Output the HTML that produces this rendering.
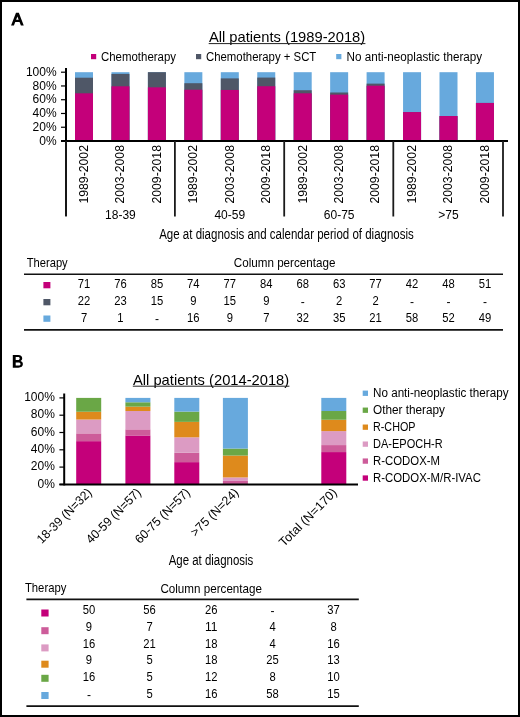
<!DOCTYPE html>
<html><head><meta charset="utf-8"><style>
html,body{margin:0;padding:0;background:#fff;}
#wrap{position:absolute;left:0;top:0;width:520px;height:717px;overflow:hidden;background:#fff;}
svg{position:absolute;left:0;top:0;font-family:"Liberation Sans", sans-serif;will-change:transform;}
text{fill:#000;}
#frame{position:absolute;left:0;top:0;width:516px;height:713px;border:2px solid #000;}
</style></head><body><div id="wrap">
<svg width="520" height="717" viewBox="0 0 520 717">
<path fill="#000" fill-rule="evenodd" d="M11.06,25.5 L16,12.8 L18.85,12.8 L23.75,25.5 L20.9,25.5 L19.54,22 L15.26,22 L13.9,25.5 Z M16.16,19.7 L18.64,19.7 L17.4,16.5 Z"/>
<text x="208.9" y="41.8" font-size="14.6" textLength="156.3" lengthAdjust="spacingAndGlyphs" >All patients (1989-2018)</text>
<line x1="208.7" y1="43.6" x2="365.4" y2="43.6" stroke="#222" stroke-width="1"/>
<rect x="91.00" y="54.00" width="5.20" height="5.20" fill="#C4007A"/>
<text x="101" y="60.6" font-size="12.5" textLength="75" lengthAdjust="spacingAndGlyphs" >Chemotherapy</text>
<rect x="196.00" y="54.00" width="5.20" height="5.20" fill="#4F5767"/>
<text x="206" y="60.6" font-size="12.5" textLength="110.3" lengthAdjust="spacingAndGlyphs" >Chemotherapy + SCT</text>
<rect x="336.20" y="54.00" width="5.20" height="5.20" fill="#67A9DD"/>
<text x="346.5" y="60.6" font-size="12.5" textLength="135.6" lengthAdjust="spacingAndGlyphs" >No anti-neoplastic therapy</text>
<line x1="66" y1="68" x2="66" y2="216" stroke="#000" stroke-width="2"/>
<line x1="61" y1="141" x2="508" y2="141" stroke="#000" stroke-width="2"/>
<line x1="61" y1="141.0" x2="66" y2="141.0" stroke="#000" stroke-width="1.2"/>
<text x="56.6" y="144.6" font-size="12" text-anchor="end" >0%</text>
<line x1="61" y1="127.24" x2="66" y2="127.24" stroke="#000" stroke-width="1.2"/>
<text x="56.6" y="130.84" font-size="12" text-anchor="end" >20%</text>
<line x1="61" y1="113.48" x2="66" y2="113.48" stroke="#000" stroke-width="1.2"/>
<text x="56.6" y="117.08" font-size="12" text-anchor="end" >40%</text>
<line x1="61" y1="99.72" x2="66" y2="99.72" stroke="#000" stroke-width="1.2"/>
<text x="56.6" y="103.32" font-size="12" text-anchor="end" >60%</text>
<line x1="61" y1="85.96000000000001" x2="66" y2="85.96000000000001" stroke="#000" stroke-width="1.2"/>
<text x="56.6" y="89.56" font-size="12" text-anchor="end" >80%</text>
<line x1="61" y1="72.2" x2="66" y2="72.2" stroke="#000" stroke-width="1.2"/>
<text x="56.6" y="75.8" font-size="12" text-anchor="end" >100%</text>
<rect x="75.00" y="72.20" width="18.00" height="68.80" fill="#67A9DD"/>
<rect x="75.00" y="77.70" width="18.00" height="63.30" fill="#4F5767"/>
<rect x="75.00" y="93.32" width="18.00" height="47.68" fill="#C4007A"/>
<rect x="111.45" y="72.20" width="18.00" height="68.80" fill="#67A9DD"/>
<rect x="111.45" y="73.92" width="18.00" height="67.08" fill="#4F5767"/>
<rect x="111.45" y="86.30" width="18.00" height="54.70" fill="#C4007A"/>
<rect x="147.90" y="72.20" width="18.00" height="68.80" fill="#67A9DD"/>
<rect x="147.90" y="72.20" width="18.00" height="68.80" fill="#4F5767"/>
<rect x="147.90" y="87.34" width="18.00" height="53.66" fill="#C4007A"/>
<rect x="184.35" y="72.20" width="18.00" height="68.80" fill="#67A9DD"/>
<rect x="184.35" y="83.21" width="18.00" height="57.79" fill="#4F5767"/>
<rect x="184.35" y="89.74" width="18.00" height="51.26" fill="#C4007A"/>
<rect x="220.80" y="72.20" width="18.00" height="68.80" fill="#67A9DD"/>
<rect x="220.80" y="78.39" width="18.00" height="62.61" fill="#4F5767"/>
<rect x="220.80" y="89.95" width="18.00" height="51.05" fill="#C4007A"/>
<rect x="257.25" y="72.20" width="18.00" height="68.80" fill="#67A9DD"/>
<rect x="257.25" y="77.57" width="18.00" height="63.43" fill="#4F5767"/>
<rect x="257.25" y="86.24" width="18.00" height="54.76" fill="#C4007A"/>
<rect x="293.70" y="72.20" width="18.00" height="68.80" fill="#67A9DD"/>
<rect x="293.70" y="90.23" width="18.00" height="50.77" fill="#4F5767"/>
<rect x="293.70" y="93.32" width="18.00" height="47.68" fill="#C4007A"/>
<rect x="330.15" y="72.20" width="18.00" height="68.80" fill="#67A9DD"/>
<rect x="330.15" y="92.50" width="18.00" height="48.50" fill="#4F5767"/>
<rect x="330.15" y="94.63" width="18.00" height="46.37" fill="#C4007A"/>
<rect x="366.60" y="72.20" width="18.00" height="68.80" fill="#67A9DD"/>
<rect x="366.60" y="83.62" width="18.00" height="57.38" fill="#4F5767"/>
<rect x="366.60" y="85.68" width="18.00" height="55.32" fill="#C4007A"/>
<rect x="403.05" y="72.20" width="18.00" height="68.80" fill="#67A9DD"/>
<rect x="403.05" y="112.10" width="18.00" height="28.90" fill="#4F5767"/>
<rect x="403.05" y="112.10" width="18.00" height="28.90" fill="#C4007A"/>
<rect x="439.50" y="72.20" width="18.00" height="68.80" fill="#67A9DD"/>
<rect x="439.50" y="116.03" width="18.00" height="24.97" fill="#4F5767"/>
<rect x="439.50" y="116.03" width="18.00" height="24.97" fill="#C4007A"/>
<rect x="475.95" y="72.20" width="18.00" height="68.80" fill="#67A9DD"/>
<rect x="475.95" y="102.95" width="18.00" height="38.05" fill="#4F5767"/>
<rect x="475.95" y="102.95" width="18.00" height="38.05" fill="#C4007A"/>
<line x1="61" y1="141" x2="508" y2="141" stroke="#000" stroke-width="2"/>
<line x1="66" y1="141" x2="66" y2="216.5" stroke="#1a1a1a" stroke-width="1.8"/>
<line x1="174.9" y1="141" x2="174.9" y2="216.5" stroke="#1a1a1a" stroke-width="1.8"/>
<line x1="284.2" y1="141" x2="284.2" y2="216.5" stroke="#1a1a1a" stroke-width="1.8"/>
<line x1="393.3" y1="141" x2="393.3" y2="216.5" stroke="#1a1a1a" stroke-width="1.8"/>
<line x1="503" y1="141" x2="503" y2="216.5" stroke="#1a1a1a" stroke-width="1.8"/>
<text transform="translate(87.80,203.6) rotate(-90)" font-size="13.6" textLength="58.6" lengthAdjust="spacingAndGlyphs">1989-2002</text>
<text transform="translate(124.25,203.6) rotate(-90)" font-size="13.6" textLength="58.6" lengthAdjust="spacingAndGlyphs">2003-2008</text>
<text transform="translate(160.70,203.6) rotate(-90)" font-size="13.6" textLength="58.6" lengthAdjust="spacingAndGlyphs">2009-2018</text>
<text transform="translate(197.15,203.6) rotate(-90)" font-size="13.6" textLength="58.6" lengthAdjust="spacingAndGlyphs">1989-2002</text>
<text transform="translate(233.60,203.6) rotate(-90)" font-size="13.6" textLength="58.6" lengthAdjust="spacingAndGlyphs">2003-2008</text>
<text transform="translate(270.05,203.6) rotate(-90)" font-size="13.6" textLength="58.6" lengthAdjust="spacingAndGlyphs">2009-2018</text>
<text transform="translate(306.50,203.6) rotate(-90)" font-size="13.6" textLength="58.6" lengthAdjust="spacingAndGlyphs">1989-2002</text>
<text transform="translate(342.95,203.6) rotate(-90)" font-size="13.6" textLength="58.6" lengthAdjust="spacingAndGlyphs">2003-2008</text>
<text transform="translate(379.40,203.6) rotate(-90)" font-size="13.6" textLength="58.6" lengthAdjust="spacingAndGlyphs">2009-2018</text>
<text transform="translate(415.85,203.6) rotate(-90)" font-size="13.6" textLength="58.6" lengthAdjust="spacingAndGlyphs">1989-2002</text>
<text transform="translate(452.30,203.6) rotate(-90)" font-size="13.6" textLength="58.6" lengthAdjust="spacingAndGlyphs">2003-2008</text>
<text transform="translate(488.75,203.6) rotate(-90)" font-size="13.6" textLength="58.6" lengthAdjust="spacingAndGlyphs">2009-2018</text>
<text x="120.45" y="218.9" font-size="12" text-anchor="middle" >18-39</text>
<text x="229.8" y="218.9" font-size="12" text-anchor="middle" >40-59</text>
<text x="339.15" y="218.9" font-size="12" text-anchor="middle" >60-75</text>
<text x="448.5" y="218.9" font-size="12" text-anchor="middle" >&gt;75</text>
<text x="159.2" y="239.3" font-size="14.9" textLength="254.6" lengthAdjust="spacingAndGlyphs" >Age at diagnosis and calendar period of diagnosis</text>
<text x="26.7" y="266.9" font-size="12.2" textLength="41" lengthAdjust="spacingAndGlyphs" >Therapy</text>
<text x="233.75" y="267.0" font-size="12.2" textLength="101.7" lengthAdjust="spacingAndGlyphs" >Column percentage</text>
<line x1="24" y1="274.2" x2="503" y2="274.2" stroke="#111" stroke-width="1.6"/>
<line x1="24" y1="329.8" x2="503" y2="329.8" stroke="#111" stroke-width="1.7"/>
<rect x="43.40" y="282.00" width="7.00" height="6.30" fill="#C4007A"/>
<text x="84.0" y="288.3" font-size="12" text-anchor="middle" textLength="12.5" lengthAdjust="spacingAndGlyphs" >71</text>
<text x="120.45" y="288.3" font-size="12" text-anchor="middle" textLength="12.5" lengthAdjust="spacingAndGlyphs" >76</text>
<text x="156.9" y="288.3" font-size="12" text-anchor="middle" textLength="12.5" lengthAdjust="spacingAndGlyphs" >85</text>
<text x="193.35" y="288.3" font-size="12" text-anchor="middle" textLength="12.5" lengthAdjust="spacingAndGlyphs" >74</text>
<text x="229.8" y="288.3" font-size="12" text-anchor="middle" textLength="12.5" lengthAdjust="spacingAndGlyphs" >77</text>
<text x="266.25" y="288.3" font-size="12" text-anchor="middle" textLength="12.5" lengthAdjust="spacingAndGlyphs" >84</text>
<text x="302.7" y="288.3" font-size="12" text-anchor="middle" textLength="12.5" lengthAdjust="spacingAndGlyphs" >68</text>
<text x="339.15" y="288.3" font-size="12" text-anchor="middle" textLength="12.5" lengthAdjust="spacingAndGlyphs" >63</text>
<text x="375.6" y="288.3" font-size="12" text-anchor="middle" textLength="12.5" lengthAdjust="spacingAndGlyphs" >77</text>
<text x="412.05" y="288.3" font-size="12" text-anchor="middle" textLength="12.5" lengthAdjust="spacingAndGlyphs" >42</text>
<text x="448.5" y="288.3" font-size="12" text-anchor="middle" textLength="12.5" lengthAdjust="spacingAndGlyphs" >48</text>
<text x="484.95" y="288.3" font-size="12" text-anchor="middle" textLength="12.5" lengthAdjust="spacingAndGlyphs" >51</text>
<rect x="43.40" y="299.00" width="7.00" height="6.30" fill="#4F5767"/>
<text x="84.0" y="305.3" font-size="12" text-anchor="middle" textLength="12.5" lengthAdjust="spacingAndGlyphs" >22</text>
<text x="120.45" y="305.3" font-size="12" text-anchor="middle" textLength="12.5" lengthAdjust="spacingAndGlyphs" >23</text>
<text x="156.9" y="305.3" font-size="12" text-anchor="middle" textLength="12.5" lengthAdjust="spacingAndGlyphs" >15</text>
<text x="193.35" y="305.3" font-size="12" text-anchor="middle" textLength="6.25" lengthAdjust="spacingAndGlyphs" >9</text>
<text x="229.8" y="305.3" font-size="12" text-anchor="middle" textLength="12.5" lengthAdjust="spacingAndGlyphs" >15</text>
<text x="266.25" y="305.3" font-size="12" text-anchor="middle" textLength="6.25" lengthAdjust="spacingAndGlyphs" >9</text>
<text x="302.7" y="306.1" font-size="12" text-anchor="middle" >-</text>
<text x="339.15" y="305.3" font-size="12" text-anchor="middle" textLength="6.25" lengthAdjust="spacingAndGlyphs" >2</text>
<text x="375.6" y="305.3" font-size="12" text-anchor="middle" textLength="6.25" lengthAdjust="spacingAndGlyphs" >2</text>
<text x="412.05" y="306.1" font-size="12" text-anchor="middle" >-</text>
<text x="448.5" y="306.1" font-size="12" text-anchor="middle" >-</text>
<text x="484.95" y="306.1" font-size="12" text-anchor="middle" >-</text>
<rect x="43.40" y="315.50" width="7.00" height="6.30" fill="#67A9DD"/>
<text x="84.0" y="322.3" font-size="12" text-anchor="middle" textLength="6.25" lengthAdjust="spacingAndGlyphs" >7</text>
<text x="120.45" y="322.3" font-size="12" text-anchor="middle" textLength="6.25" lengthAdjust="spacingAndGlyphs" >1</text>
<text x="156.9" y="323.1" font-size="12" text-anchor="middle" >-</text>
<text x="193.35" y="322.3" font-size="12" text-anchor="middle" textLength="12.5" lengthAdjust="spacingAndGlyphs" >16</text>
<text x="229.8" y="322.3" font-size="12" text-anchor="middle" textLength="6.25" lengthAdjust="spacingAndGlyphs" >9</text>
<text x="266.25" y="322.3" font-size="12" text-anchor="middle" textLength="6.25" lengthAdjust="spacingAndGlyphs" >7</text>
<text x="302.7" y="322.3" font-size="12" text-anchor="middle" textLength="12.5" lengthAdjust="spacingAndGlyphs" >32</text>
<text x="339.15" y="322.3" font-size="12" text-anchor="middle" textLength="12.5" lengthAdjust="spacingAndGlyphs" >35</text>
<text x="375.6" y="322.3" font-size="12" text-anchor="middle" textLength="12.5" lengthAdjust="spacingAndGlyphs" >21</text>
<text x="412.05" y="322.3" font-size="12" text-anchor="middle" textLength="12.5" lengthAdjust="spacingAndGlyphs" >58</text>
<text x="448.5" y="322.3" font-size="12" text-anchor="middle" textLength="12.5" lengthAdjust="spacingAndGlyphs" >52</text>
<text x="484.95" y="322.3" font-size="12" text-anchor="middle" textLength="12.5" lengthAdjust="spacingAndGlyphs" >49</text>
<path fill="#000" fill-rule="evenodd" d="M12.8,355.1 H18.2 C21,355.1 22.2,356.4 22.2,358.3 C22.2,359.6 21.5,360.5 20.5,360.9 C21.9,361.3 22.9,362.4 22.9,364.1 C22.9,366.4 21.2,367.7 18.4,367.7 H12.8 Z M15.7,357.0 H18 C19.2,357 19.7,357.6 19.7,358.4 C19.7,359.3 19.1,359.9 18,359.9 H15.7 Z M15.7,362.4 H18.3 C19.8,362.4 20.5,363.0 20.5,363.9 C20.5,364.9 19.8,365.5 18.3,365.5 H15.7 Z"/>
<text x="133" y="384.5" font-size="14.6" textLength="156.2" lengthAdjust="spacingAndGlyphs" >All patients (2014-2018)</text>
<line x1="132.8" y1="386.2" x2="289.4" y2="386.2" stroke="#222" stroke-width="1"/>
<line x1="64.2" y1="393.5" x2="64.2" y2="485.4" stroke="#000" stroke-width="2"/>
<line x1="59.4" y1="484.4" x2="64.2" y2="484.4" stroke="#000" stroke-width="1.2"/>
<text x="54.9" y="487.6" font-size="12" text-anchor="end" >0%</text>
<line x1="59.4" y1="467.09999999999997" x2="64.2" y2="467.09999999999997" stroke="#000" stroke-width="1.2"/>
<text x="54.9" y="470.3" font-size="12" text-anchor="end" >20%</text>
<line x1="59.4" y1="449.79999999999995" x2="64.2" y2="449.79999999999995" stroke="#000" stroke-width="1.2"/>
<text x="54.9" y="453.0" font-size="12" text-anchor="end" >40%</text>
<line x1="59.4" y1="432.5" x2="64.2" y2="432.5" stroke="#000" stroke-width="1.2"/>
<text x="54.9" y="435.7" font-size="12" text-anchor="end" >60%</text>
<line x1="59.4" y1="415.2" x2="64.2" y2="415.2" stroke="#000" stroke-width="1.2"/>
<text x="54.9" y="418.4" font-size="12" text-anchor="end" >80%</text>
<line x1="59.4" y1="397.9" x2="64.2" y2="397.9" stroke="#000" stroke-width="1.2"/>
<text x="54.9" y="401.1" font-size="12" text-anchor="end" >100%</text>
<rect x="76.20" y="441.15" width="25.00" height="43.25" fill="#C4007A"/>
<rect x="76.20" y="433.37" width="25.00" height="7.78" fill="#CD5C9A"/>
<rect x="76.20" y="419.52" width="25.00" height="13.84" fill="#DC9BC3"/>
<rect x="76.20" y="411.74" width="25.00" height="7.78" fill="#DE8A1C"/>
<rect x="76.20" y="397.90" width="25.00" height="13.84" fill="#6AA746"/>
<rect x="125.40" y="435.47" width="25.00" height="48.93" fill="#C4007A"/>
<rect x="125.40" y="429.35" width="25.00" height="6.12" fill="#CD5C9A"/>
<rect x="125.40" y="411.01" width="25.00" height="18.35" fill="#DC9BC3"/>
<rect x="125.40" y="406.64" width="25.00" height="4.37" fill="#DE8A1C"/>
<rect x="125.40" y="402.27" width="25.00" height="4.37" fill="#6AA746"/>
<rect x="125.40" y="397.90" width="25.00" height="4.37" fill="#67A9DD"/>
<rect x="174.30" y="462.13" width="25.00" height="22.27" fill="#C4007A"/>
<rect x="174.30" y="452.71" width="25.00" height="9.42" fill="#CD5C9A"/>
<rect x="174.30" y="437.30" width="25.00" height="15.42" fill="#DC9BC3"/>
<rect x="174.30" y="421.88" width="25.00" height="15.42" fill="#DE8A1C"/>
<rect x="174.30" y="411.60" width="25.00" height="10.28" fill="#6AA746"/>
<rect x="174.30" y="397.90" width="25.00" height="13.70" fill="#67A9DD"/>
<rect x="222.90" y="480.91" width="25.00" height="3.49" fill="#CD5C9A"/>
<rect x="222.90" y="477.41" width="25.00" height="3.49" fill="#DC9BC3"/>
<rect x="222.90" y="455.57" width="25.00" height="21.84" fill="#DE8A1C"/>
<rect x="222.90" y="448.58" width="25.00" height="6.99" fill="#6AA746"/>
<rect x="222.90" y="397.90" width="25.00" height="50.68" fill="#67A9DD"/>
<rect x="321.30" y="452.07" width="25.00" height="32.33" fill="#C4007A"/>
<rect x="321.30" y="445.08" width="25.00" height="6.99" fill="#CD5C9A"/>
<rect x="321.30" y="431.10" width="25.00" height="13.98" fill="#DC9BC3"/>
<rect x="321.30" y="419.74" width="25.00" height="11.36" fill="#DE8A1C"/>
<rect x="321.30" y="411.01" width="25.00" height="8.74" fill="#6AA746"/>
<rect x="321.30" y="397.90" width="25.00" height="13.11" fill="#67A9DD"/>
<line x1="59.4" y1="484.4" x2="358" y2="484.4" stroke="#000" stroke-width="2"/>
<text transform="translate(92.70,493.4) rotate(-45)" font-size="12.5" text-anchor="end" textLength="72" lengthAdjust="spacingAndGlyphs">18-39 (N=32)</text>
<text transform="translate(141.90,493.4) rotate(-45)" font-size="12.5" text-anchor="end" textLength="72" lengthAdjust="spacingAndGlyphs">40-59 (N=57)</text>
<text transform="translate(190.80,493.4) rotate(-45)" font-size="12.5" text-anchor="end" textLength="72" lengthAdjust="spacingAndGlyphs">60-75 (N=57)</text>
<text transform="translate(239.40,493.4) rotate(-45)" font-size="12.5" text-anchor="end" textLength="62" lengthAdjust="spacingAndGlyphs">&gt;75 (N=24)</text>
<text transform="translate(337.80,493.4) rotate(-45)" font-size="12.5" text-anchor="end" textLength="76" lengthAdjust="spacingAndGlyphs">Total (N=170)</text>
<text x="168.7" y="565.4" font-size="14.9" textLength="84.6" lengthAdjust="spacingAndGlyphs" >Age at diagnosis</text>
<rect x="362.70" y="390.60" width="5.30" height="5.30" fill="#67A9DD"/>
<text x="373" y="397.3" font-size="12.3" textLength="135.5" lengthAdjust="spacingAndGlyphs" >No anti-neoplastic therapy</text>
<rect x="362.70" y="407.56" width="5.30" height="5.30" fill="#6AA746"/>
<text x="373" y="414.16" font-size="12.3" textLength="72" lengthAdjust="spacingAndGlyphs" >Other therapy</text>
<rect x="362.70" y="424.52" width="5.30" height="5.30" fill="#DE8A1C"/>
<text x="373" y="431.02" font-size="12.3" textLength="42.5" lengthAdjust="spacingAndGlyphs" >R-CHOP</text>
<rect x="362.70" y="441.48" width="5.30" height="5.30" fill="#DC9BC3"/>
<text x="373" y="447.88" font-size="12.3" textLength="69.7" lengthAdjust="spacingAndGlyphs" >DA-EPOCH-R</text>
<rect x="362.70" y="458.44" width="5.30" height="5.30" fill="#CD5C9A"/>
<text x="373" y="464.74" font-size="12.3" textLength="67" lengthAdjust="spacingAndGlyphs" >R-CODOX-M</text>
<rect x="362.70" y="475.40" width="5.30" height="5.30" fill="#C4007A"/>
<text x="373" y="481.6" font-size="12.3" textLength="107.9" lengthAdjust="spacingAndGlyphs" >R-CODOX-M/R-IVAC</text>
<text x="24.9" y="592.2" font-size="12.2" textLength="41.5" lengthAdjust="spacingAndGlyphs" >Therapy</text>
<text x="160.4" y="592.5" font-size="12.2" textLength="101.6" lengthAdjust="spacingAndGlyphs" >Column percentage</text>
<line x1="26.4" y1="599.4" x2="358.8" y2="599.4" stroke="#111" stroke-width="1.6"/>
<line x1="26.4" y1="706.2" x2="358.8" y2="706.2" stroke="#111" stroke-width="1.7"/>
<rect x="41.30" y="609.50" width="7.30" height="7.00" fill="#C4007A"/>
<text x="88.9" y="613.8" font-size="12" text-anchor="middle" textLength="12.5" lengthAdjust="spacingAndGlyphs" >50</text>
<text x="149.5" y="613.8" font-size="12" text-anchor="middle" textLength="12.5" lengthAdjust="spacingAndGlyphs" >56</text>
<text x="211.2" y="613.8" font-size="12" text-anchor="middle" textLength="12.5" lengthAdjust="spacingAndGlyphs" >26</text>
<text x="272.5" y="614.6" font-size="12" text-anchor="middle" >-</text>
<text x="333.6" y="613.8" font-size="12" text-anchor="middle" textLength="12.5" lengthAdjust="spacingAndGlyphs" >37</text>
<rect x="41.30" y="627.20" width="7.30" height="7.00" fill="#CD5C9A"/>
<text x="88.9" y="630.66" font-size="12" text-anchor="middle" textLength="6.25" lengthAdjust="spacingAndGlyphs" >9</text>
<text x="149.5" y="630.66" font-size="12" text-anchor="middle" textLength="6.25" lengthAdjust="spacingAndGlyphs" >7</text>
<text x="211.2" y="630.66" font-size="12" text-anchor="middle" textLength="12.5" lengthAdjust="spacingAndGlyphs" >11</text>
<text x="272.5" y="630.66" font-size="12" text-anchor="middle" textLength="6.25" lengthAdjust="spacingAndGlyphs" >4</text>
<text x="333.6" y="630.66" font-size="12" text-anchor="middle" textLength="6.25" lengthAdjust="spacingAndGlyphs" >8</text>
<rect x="41.30" y="644.40" width="7.30" height="7.00" fill="#DC9BC3"/>
<text x="88.9" y="647.52" font-size="12" text-anchor="middle" textLength="12.5" lengthAdjust="spacingAndGlyphs" >16</text>
<text x="149.5" y="647.52" font-size="12" text-anchor="middle" textLength="12.5" lengthAdjust="spacingAndGlyphs" >21</text>
<text x="211.2" y="647.52" font-size="12" text-anchor="middle" textLength="12.5" lengthAdjust="spacingAndGlyphs" >18</text>
<text x="272.5" y="647.52" font-size="12" text-anchor="middle" textLength="6.25" lengthAdjust="spacingAndGlyphs" >4</text>
<text x="333.6" y="647.52" font-size="12" text-anchor="middle" textLength="12.5" lengthAdjust="spacingAndGlyphs" >16</text>
<rect x="41.30" y="660.70" width="7.30" height="7.00" fill="#DE8A1C"/>
<text x="88.9" y="664.38" font-size="12" text-anchor="middle" textLength="6.25" lengthAdjust="spacingAndGlyphs" >9</text>
<text x="149.5" y="664.38" font-size="12" text-anchor="middle" textLength="6.25" lengthAdjust="spacingAndGlyphs" >5</text>
<text x="211.2" y="664.38" font-size="12" text-anchor="middle" textLength="12.5" lengthAdjust="spacingAndGlyphs" >18</text>
<text x="272.5" y="664.38" font-size="12" text-anchor="middle" textLength="12.5" lengthAdjust="spacingAndGlyphs" >25</text>
<text x="333.6" y="664.38" font-size="12" text-anchor="middle" textLength="12.5" lengthAdjust="spacingAndGlyphs" >13</text>
<rect x="41.30" y="674.80" width="7.30" height="7.00" fill="#6AA746"/>
<text x="88.9" y="681.24" font-size="12" text-anchor="middle" textLength="12.5" lengthAdjust="spacingAndGlyphs" >16</text>
<text x="149.5" y="681.24" font-size="12" text-anchor="middle" textLength="6.25" lengthAdjust="spacingAndGlyphs" >5</text>
<text x="211.2" y="681.24" font-size="12" text-anchor="middle" textLength="12.5" lengthAdjust="spacingAndGlyphs" >12</text>
<text x="272.5" y="681.24" font-size="12" text-anchor="middle" textLength="6.25" lengthAdjust="spacingAndGlyphs" >8</text>
<text x="333.6" y="681.24" font-size="12" text-anchor="middle" textLength="12.5" lengthAdjust="spacingAndGlyphs" >10</text>
<rect x="41.30" y="692.00" width="7.30" height="7.00" fill="#67A9DD"/>
<text x="88.9" y="698.9" font-size="12" text-anchor="middle" >-</text>
<text x="149.5" y="698.1" font-size="12" text-anchor="middle" textLength="6.25" lengthAdjust="spacingAndGlyphs" >5</text>
<text x="211.2" y="698.1" font-size="12" text-anchor="middle" textLength="12.5" lengthAdjust="spacingAndGlyphs" >16</text>
<text x="272.5" y="698.1" font-size="12" text-anchor="middle" textLength="12.5" lengthAdjust="spacingAndGlyphs" >58</text>
<text x="333.6" y="698.1" font-size="12" text-anchor="middle" textLength="12.5" lengthAdjust="spacingAndGlyphs" >15</text>
</svg>
<div id="frame"></div>
</div></body></html>
